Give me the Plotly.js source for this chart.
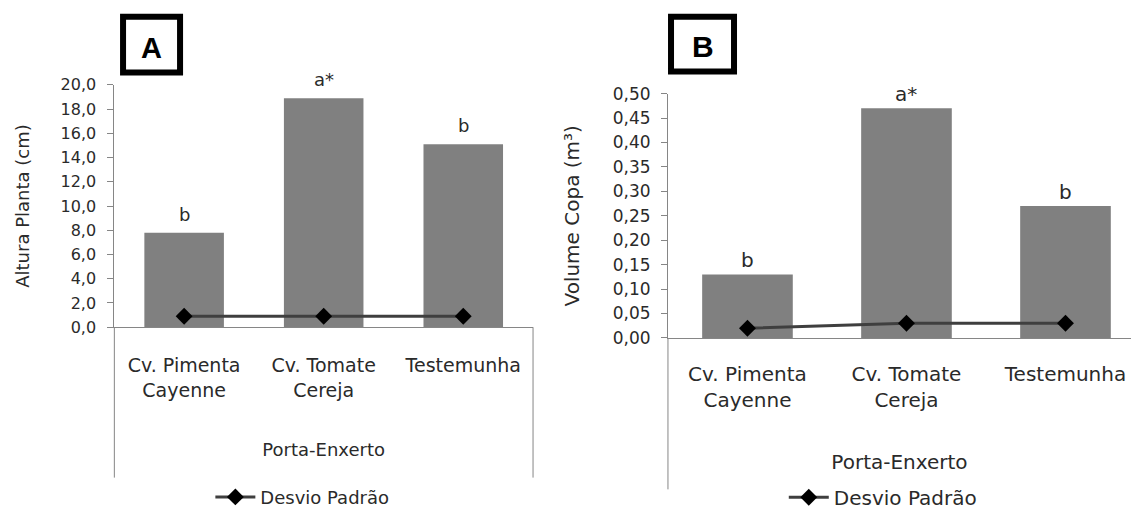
<!DOCTYPE html>
<html><head><meta charset="utf-8">
<script src="https://cdn.plot.ly/plotly-3.0.1.min.js"></script>
<style>html,body{margin:0;padding:0;background:#fff;overflow:hidden}</style>
</head><body><div id="chart" style="width:1131px;height:517px"></div>
<script>
// Categories (porta-enxerto)
const categories = ['Cv. Pimenta<br>Cayenne', 'Cv. Tomate<br>Cereja', 'Testemunha'];
// Panel A: Altura Planta (cm)
const alturaPlanta = [7.8, 18.9, 15.1];
const desvioAltura = [0.9, 0.9, 0.9];
const letrasAltura = ['b', 'a*', 'b'];
// Panel B: Volume Copa (m³)
const volumeCopa = [0.13, 0.47, 0.27];
const desvioVolume = [0.02, 0.03, 0.03];
const letrasVolume = ['b', 'a*', 'b'];
const panelLabels = ['A', 'B'];

const FONT = 'DejaVu Sans, Lato, sans-serif';
const AX = '#868686';
const TXT = '#2a2a2a';

const traces = [
  {type: 'bar', x: categories, y: alturaPlanta, xaxis: 'x', yaxis: 'y',
   marker: {color: '#808080'}, showlegend: false, hoverinfo: 'skip'},
  {type: 'scatter', mode: 'lines+markers', x: categories, y: desvioAltura, xaxis: 'x', yaxis: 'y',
   name: 'Desvio Padrão', legend: 'legend',
   line: {color: '#3f3f3f', width: 3}, marker: {symbol: 'diamond', size: 13, color: '#000'}},
  {type: 'bar', x: categories, y: volumeCopa, xaxis: 'x2', yaxis: 'y2',
   marker: {color: '#808080'}, showlegend: false, hoverinfo: 'skip'},
  {type: 'scatter', mode: 'lines+markers', x: categories, y: desvioVolume, xaxis: 'x2', yaxis: 'y2',
   name: 'Desvio Padrão', legend: 'legend2',
   line: {color: '#3f3f3f', width: 3}, marker: {symbol: 'diamond', size: 13, color: '#000'}}
];

const annotations = [];
letrasAltura.forEach((t, i) => annotations.push({
  x: categories[i], y: alturaPlanta[i], xref: 'x', yref: 'y', text: t, showarrow: false,
  yanchor: 'bottom', yshift: 6, font: {family: FONT, size: 18, color: TXT}}));
letrasVolume.forEach((t, i) => annotations.push({
  x: categories[i], y: volumeCopa[i], xref: 'x2', yref: 'y2', text: t, showarrow: false,
  yanchor: 'bottom', yshift: 0, font: {family: FONT, size: 20, color: TXT}}));
annotations.push({x: 0.1340, y: 0.905, xref: 'paper', yref: 'paper', xanchor: 'center', yanchor: 'middle',
  text: '<b>' + panelLabels[0] + '</b>',
  showarrow: false, font: {family: 'Liberation Sans, Arial', size: 29, color: '#000'}});
annotations.push({x: 0.6215, y: 0.909, xref: 'paper', yref: 'paper', xanchor: 'center', yanchor: 'middle',
  text: '<b>' + panelLabels[1] + '</b>',
  showarrow: false, font: {family: 'Liberation Sans, Arial', size: 30, color: '#000'}});

const shapes = [
  {type: 'line', xref: 'x domain', yref: 'paper', x0: 0, x1: 0, y0: 0.0561, y1: 0.3534, line: {color: AX, width: 1}},
  {type: 'line', xref: 'x domain', yref: 'paper', x0: 1, x1: 1, y0: 0.0561, y1: 0.3534, line: {color: AX, width: 1}},
  {type: 'line', xref: 'x2 domain', yref: 'paper', x0: 0, x1: 0, y0: 0.0329, y1: 0.3321, line: {color: AX, width: 1}},
  {type: 'rect', xref: 'paper', yref: 'paper', x0: 0.1088, x1: 0.1592, y0: 0.8569, y1: 0.9671, line: {color: '#000', width: 6}},
  {type: 'rect', xref: 'paper', yref: 'paper', x0: 0.5933, x1: 0.6490, y0: 0.8588, y1: 0.9671, line: {color: '#000', width: 6}}
];

const layout = {
  width: 1131, height: 517,
  margin: {l: 0, r: 0, t: 0, b: 0},
  paper_bgcolor: '#fff', plot_bgcolor: 'rgba(0,0,0,0)',
  separators: ',.',
  font: {family: FONT, color: TXT},
  bargap: 0.43,
  showlegend: true,
  xaxis: {domain: [0.1011, 0.4713], anchor: 'y', range: [-0.5, 2.5], showline: true, linecolor: AX, linewidth: 1,
    ticks: '', tickfont: {size: 19, color: TXT}, automargin: false, fixedrange: true, ticklabelstandoff: 21,
    title: {text: 'Porta-Enxerto', font: {size: 18, color: TXT}, standoff: 43}},
  yaxis: {domain: [0.3534, 0.8323], anchor: 'x', range: [0, 20], dtick: 2, tickformat: '.1f',
    ticks: 'outside', ticklen: 6, tickcolor: AX, showline: true, linecolor: AX, linewidth: 1,
    showgrid: false, zeroline: false, tickfont: {size: 16, color: TXT}, automargin: false, ticklabelstandoff: 8,
    title: {text: 'Altura Planta (cm)', font: {size: 18, color: TXT}, standoff: 26}},
  xaxis2: {domain: [0.5906, 1], anchor: 'y2', range: [-0.5, 2.412], showline: true, linecolor: AX, linewidth: 1,
    ticks: '', tickfont: {size: 20, color: TXT}, automargin: false, fixedrange: true, ticklabelstandoff: 18,
    title: {text: 'Porta-Enxerto', font: {size: 20, color: TXT}, standoff: 44}},
  yaxis2: {domain: [0.3321, 0.8149], anchor: 'x2', range: [0, 0.5], dtick: 0.05, tickformat: '.2f',
    ticks: 'outside', ticklen: 6, tickcolor: AX, showline: true, linecolor: AX, linewidth: 1,
    showgrid: false, zeroline: false, tickfont: {size: 17, color: TXT}, automargin: false, ticklabelstandoff: 7,
    title: {text: 'Volume Copa (m³)', font: {size: 20, color: TXT}, standoff: 27}},
  legend: {x: 0.186, y: 0.0174, xanchor: 'left', yanchor: 'middle', orientation: 'h',
    font: {size: 18, color: TXT}, itemwidth: 40, bgcolor: 'rgba(0,0,0,0)'},
  legend2: {x: 0.693, y: 0.0174, xanchor: 'left', yanchor: 'middle', orientation: 'h',
    font: {size: 20, color: TXT}, itemwidth: 40, bgcolor: 'rgba(0,0,0,0)'},
  annotations: annotations,
  shapes: shapes
};

Plotly.newPlot('chart', traces, layout, {displayModeBar: false, staticPlot: true});
</script></body></html>
